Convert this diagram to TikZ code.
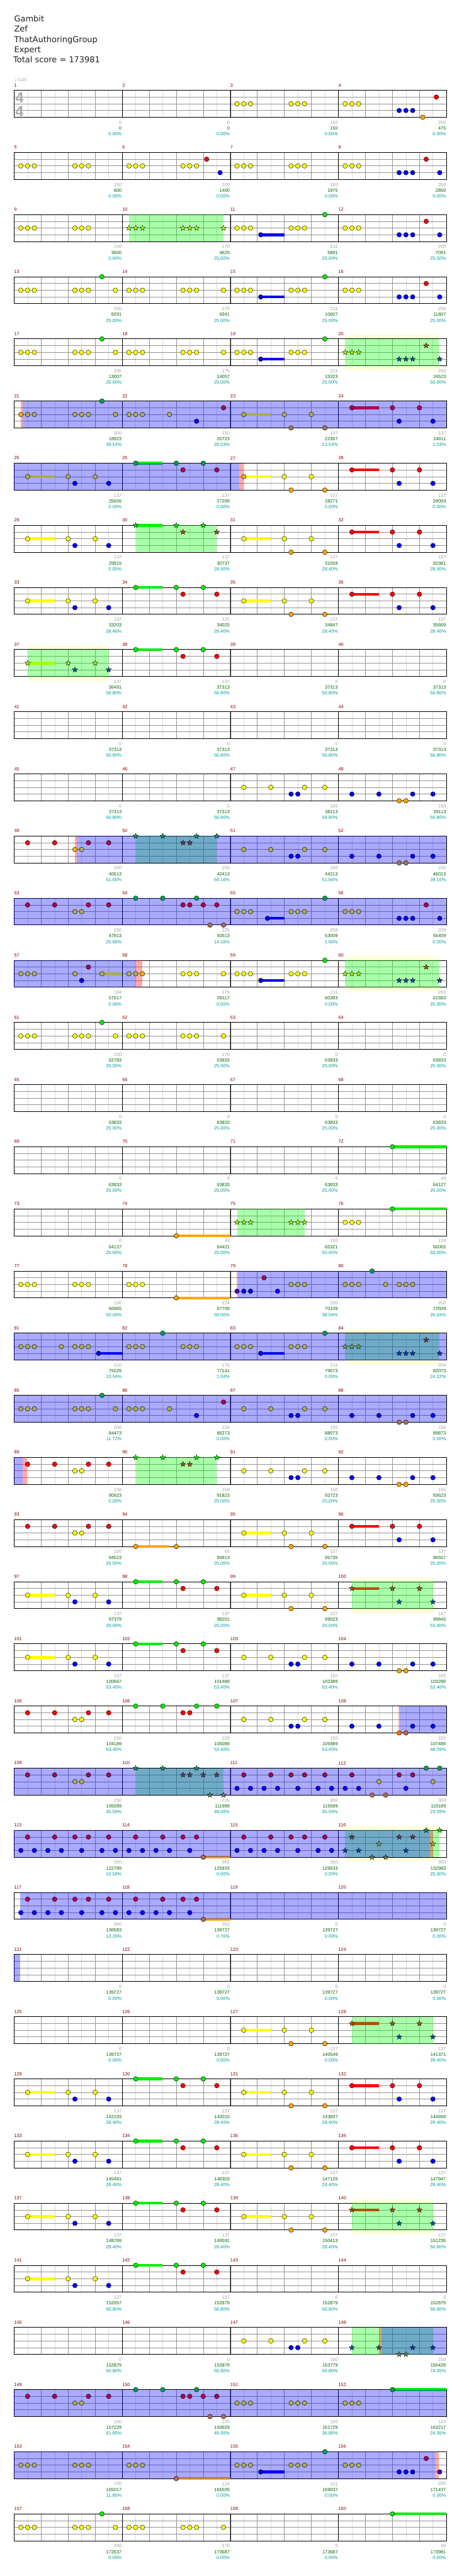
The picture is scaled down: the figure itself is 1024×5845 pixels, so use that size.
\documentclass[tikz,border=0pt]{standalone}
\usepackage{fontspec}
\setmainfont{Liberation Sans}
\newfontfamily\headfont{DejaVu Sans}
\definecolor{chG}{HTML}{00EE00}
\definecolor{chR}{HTML}{FF0000}
\definecolor{chY}{HTML}{FFFF00}
\definecolor{chB}{HTML}{0000FF}
\definecolor{chO}{HTML}{FFA500}
\definecolor{chbar}{HTML}{8B0000}
\definecolor{chmax}{HTML}{A0A0A0}
\definecolor{chsum}{HTML}{006400}
\definecolor{chpct}{HTML}{009A9A}
\definecolor{chpale}{HTML}{FFFFDC}

% lane offsets below the staff top
\newcommand\lyG{0}
\newcommand\lyR{15.25}
\newcommand\lyY{30.5}
\newcommand\lyB{45.75}
\newcommand\lyO{61}
% n plain, o overdrive, r lag strip, s star phrase, t phrase+overdrive, u phrase+lag
\newcommand\mxn{}
\newcommand\mxo{!67!blue}
\newcommand\mxr{!67!red}
\newcommand\mxs{!67!green}
\newcommand\mxt{!67!green!67!blue}
\newcommand\mxu{!67!green!67!red}

\newcommand{\chnote}[3]{%
  \edef\ncol{ch#2\csname mx#3\endcsname}%
  \edef\ny{\csname ly#2\endcsname}%
  \filldraw[gem,fill=\ncol] (#1,\ny) circle[radius=5.3pt];}
\newcommand{\chstar}[3]{%
  \edef\ncol{ch#2\csname mx#3\endcsname}%
  \edef\ny{\csname ly#2\endcsname}%
  \filldraw[starline,fill=\ncol] (#1,\ny) +(90:6.4pt) -- +(126:2.6pt) -- +(162:6.4pt) -- +(198:2.6pt)
    -- +(234:6.4pt) -- +(270:2.6pt) -- +(306:6.4pt) -- +(342:2.6pt) -- +(18:6.4pt) -- +(54:2.6pt) -- cycle;}
\newcommand{\chsus}[3]{%
  \edef\ny{\csname ly#3\endcsname}%
  \fill[ch#3] (#1,\ny-3.2) rectangle (#2,\ny+3.2);}
\newcommand{\chzone}[3]{\fill[#3,fill opacity=.333] (#1,0) rectangle (#2,61);}
\newcommand{\scorerow}[2]{%
  \begin{scope}[rowat=#1]
    \foreach \vg/\vs/\vq [count=\vn] in {#2} {
      \node[maxpts] (max-#1-\vn) at (16*\vn,72.8) {\vg};
      \node[cumpts] (sum-#1-\vn) at (16*\vn,86) {\vs};
      \node[pctval] (pct-#1-\vn) at (16*\vn,99.2) {\vq\%};
    }
  \end{scope}}

\begin{document}
\begin{tikzpicture}[x=1pt,y=-1pt,
  rowat/.style={shift={(32,{205+141*#1})},x=15.3125pt},
  subline/.style={draw=black!14,line width=.8pt},
  beatline/.style={draw=black!42,line width=.9pt},
  laneline/.style={draw=black!42,line width=1pt},
  barline/.style={draw=black,line width=.8pt},
  staffbox/.style={draw=black,line width=1.3pt},
  gem/.style={draw=black,line width=.6pt},
  starline/.style={draw=black,line width=.5pt},
  barno/.style={anchor=west,inner sep=0pt,text=chbar,font=\fontsize{10.5}{12}\selectfont},
  maxpts/.style={anchor=east,inner sep=0pt,xshift=-1pt,text=chmax,font=\fontsize{10.5}{12}\selectfont},
  cumpts/.style={anchor=east,inner sep=0pt,xshift=-1pt,text=chsum,font=\fontsize{10.5}{12}\selectfont},
  pctval/.style={anchor=east,inner sep=0pt,xshift=-1pt,text=chpct,font=\fontsize{10.5}{12}\selectfont},
  headline/.style={anchor=base west,inner sep=0pt,text=black!88,font=\headfont\fontsize{18.5}{20}\selectfont},
  tempo/.style={anchor=west,inner sep=0pt,text=black!35,font=\fontsize{10.5}{12}\selectfont},
  timesig/.style={inner sep=0pt,text=black!33,font=\fontsize{34}{34}\bfseries\selectfont}]
  \useasboundingbox (0,0) rectangle (1024,5845);

  \node[headline] (song) at (32,49.3) {Gambit};
  \node[headline] (artist) at (32,72.3) {Zef};
  \node[headline] (charter) at (32,95.7) {ThatAuthoringGroup};
  \node[headline] (level) at (32,119) {Expert};
  \node[headline] (total) at (30,141.7) {Total score = 173981};
  \node[tempo] (bpm) at (32,181) {{\headfont ♩}=135};

  % star phrase halo
  \foreach \rw/\za/\zb in {4/49/63,9/2/14,14/49/63,20/49/63,24/50/62,28/49/63,34/50/62} {
    \begin{scope}[rowat=\rw]
      \fill[chpale] (\za,-10) rectangle (\zb,71);
    \end{scope}
  }

  % staves
  \foreach \rw in {0,...,39} {
    \begin{scope}[rowat=\rw]
      \fill[white] (0,0) rectangle (64,61);
      \foreach \ps in {2,6,...,62} \draw[subline] (\ps,0) -- (\ps,61);
      \foreach \ps in {4,8,...,60} \draw[beatline] (\ps,0) -- (\ps,61);
      \foreach \lk in {1,2,3} \draw[laneline] (0,15.25*\lk) -- (64,15.25*\lk);
      \foreach \ps in {16,32,48} \draw[barline] (\ps,0) -- (\ps,61);
      \draw[staffbox] (0,0) rectangle (64,61);
      \foreach \ms in {0,...,3} {
        \pgfmathtruncatemacro\mno{4*\rw+\ms+1}
        \node[barno] (bar\mno) at (16*\ms,-11.5) {\mno};
      }
    \end{scope}
  }

  % m1-4
  \begin{scope}[rowat=0]
    \node[timesig] (tsup) at (0.8,16) {4};
    \node[timesig] (tsdown) at (0.8,47.5) {4};
    \foreach \np/\nc in {33/Y,34/Y,35/Y,41/Y,42/Y,43/Y,49/Y,50/Y,51/Y,57/B,58/B,59/B,60.5/O,62.5/R} \chnote{\np}{\nc}{n};
  \end{scope}
  \scorerow{0}{0/0/0.00,0/0/0.00,150/150/0.00,200/475/0.00}

  % m5-8
  \begin{scope}[rowat=1]
    \foreach \np/\nc in {1/Y,2/Y,3/Y,9/Y,10/Y,11/Y,17/Y,18/Y,19/Y,25/Y,26/Y,27/Y,28.5/R,30.5/B,
      33/Y,34/Y,35/Y,41/Y,42/Y,43/Y,49/Y,50/Y,51/Y,57/B,58/B,59/B,61/R,63/B} \chnote{\np}{\nc}{n};
  \end{scope}
  \scorerow{1}{150/800/0.00,200/1400/0.00,150/1975/0.00,200/2850/0.00}

  % m9-12
  \begin{scope}[rowat=2]
    \chsus{36.5}{40}{B}
    \chzone{17}{31}{green}
    \foreach \np/\nc in {1/Y,2/Y,3/Y,9/Y,10/Y,11/Y,33/Y,34/Y,35/Y,36.5/B,41/Y,42/Y,43/Y,46/G,
      49/Y,50/Y,51/Y,57/B,58/B,59/B,61/R,63/B} \chnote{\np}{\nc}{n};
    \foreach \np/\nc in {17/Y,18/Y,19/Y,25/Y,26/Y,27/Y,31/Y} \chstar{\np}{\nc}{s};
  \end{scope}
  \scorerow{2}{150/3600/0.00,175/4625/25.00,211/5891/25.00,200/7091/25.00}

  % m13-16
  \begin{scope}[rowat=3]
    \chsus{36.5}{40}{B}
    \foreach \np/\nc in {1/Y,2/Y,3/Y,9/Y,10/Y,11/Y,13/G,15/Y,17/Y,18/Y,19/Y,25/Y,26/Y,27/Y,31/Y,
      33/Y,34/Y,35/Y,36.5/B,41/Y,42/Y,43/Y,46/G,49/Y,50/Y,51/Y,57/B,58/B,59/B,61/R,63/B} \chnote{\np}{\nc}{n};
  \end{scope}
  \scorerow{3}{200/8291/25.00,175/9341/25.00,211/10607/25.00,200/11807/25.00}

  % m17-20
  \begin{scope}[rowat=4]
    \chsus{36.5}{40}{B}
    \chzone{49}{63}{green}
    \foreach \np/\nc in {1/Y,2/Y,3/Y,9/Y,10/Y,11/Y,13/G,15/Y,17/Y,18/Y,19/Y,25/Y,26/Y,27/Y,31/Y,
      33/Y,34/Y,35/Y,36.5/B,41/Y,42/Y,43/Y,46/G} \chnote{\np}{\nc}{n};
    \foreach \np/\nc in {49/Y,50/Y,51/Y,57/B,58/B,59/B,61/R,63/B} \chstar{\np}{\nc}{s};
  \end{scope}
  \scorerow{4}{200/13007/25.00,175/14057/25.00,211/15323/25.00,200/16523/50.00}

  % m21-24
  \begin{scope}[rowat=5]
    \chsus{34}{38}{Y}
    \chsus{50}{54}{R}
    \chzone{0.96}{1.26}{red}
    \chzone{1.26}{64}{blue}
    \chnote{1}{Y}{r}
    \foreach \np/\nc in {2/Y,3/Y,9/Y,10/Y,11/Y,13/G,15/Y,17/Y,18/Y,19/Y,23/Y,27/B,31/R,
      34/Y,40/Y,41/O,44/Y,46/O,50/R,56/R,57/B,60/R,62/B} \chnote{\np}{\nc}{o};
  \end{scope}
  \scorerow{5}{200/18923/38.53,150/20723/26.03,137/22367/13.53,137/24011/1.03}

  % m25-28
  \begin{scope}[rowat=6]
    \chsus{2}{6}{Y}
    \chsus{18}{22}{G}
    \chsus{34}{38}{Y}
    \chsus{50}{54}{R}
    \chzone{0}{33.3}{blue}
    \chzone{33.3}{34}{red}
    \foreach \np/\nc in {2/Y,8/Y,9/B,12/Y,14/B,18/G,24/G,25/R,28/G,30/R} \chnote{\np}{\nc}{o};
    \chnote{34}{Y}{r}
    \foreach \np/\nc in {40/Y,41/O,44/Y,46/O,50/R,56/R,57/B,60/R,62/B} \chnote{\np}{\nc}{n};
  \end{scope}
  \scorerow{6}{137/25655/0.00,137/27299/0.00,137/28271/0.00,137/29093/0.00}

  % m29-32
  \begin{scope}[rowat=7]
    \chsus{2}{6}{Y}
    \chsus{18}{22}{G}
    \chsus{34}{38}{Y}
    \chsus{50}{54}{R}
    \chzone{18}{30}{green}
    \foreach \np/\nc in {2/Y,8/Y,9/B,12/Y,14/B,34/Y,40/Y,41/O,44/Y,46/O,50/R,56/R,57/B,60/R,62/B} \chnote{\np}{\nc}{n};
    \foreach \np/\nc in {18/G,24/G,25/R,28/G,30/R} \chstar{\np}{\nc}{s};
  \end{scope}
  \scorerow{7}{137/29915/0.00,137/30737/28.40,137/31559/28.40,137/32381/28.40}

  % m33-36
  \begin{scope}[rowat=8]
    \chsus{2}{6}{Y}
    \chsus{18}{22}{G}
    \chsus{34}{38}{Y}
    \chsus{50}{54}{R}
    \foreach \np/\nc in {2/Y,8/Y,9/B,12/Y,14/B,18/G,24/G,25/R,28/G,30/R,
      34/Y,40/Y,41/O,44/Y,46/O,50/R,56/R,57/B,60/R,62/B} \chnote{\np}{\nc}{n};
  \end{scope}
  \scorerow{8}{137/33203/28.40,137/34025/28.40,137/34847/28.40,137/35669/28.40}

  % m37-40
  \begin{scope}[rowat=9]
    \chsus{2}{6}{Y}
    \chsus{18}{22}{G}
    \chzone{2}{14}{green}
    \foreach \np/\nc in {18/G,24/G,25/R,28/G,30/R} \chnote{\np}{\nc}{n};
    \foreach \np/\nc in {2/Y,8/Y,9/B,12/Y,14/B} \chstar{\np}{\nc}{s};
  \end{scope}
  \scorerow{9}{137/36491/56.80,137/37313/56.80,0/37313/56.80,0/37313/56.80}

  % m41-44
  \scorerow{10}{0/37313/56.80,0/37313/56.80,0/37313/56.80,0/37313/56.80}

  % m45-48
  \begin{scope}[rowat=11]
    \foreach \np/\nc in {34/Y,38/Y,41/B,42/B,43/Y,46/Y,50/B,54/B,57/O,58/O,59/B,62/B} \chnote{\np}{\nc}{n};
  \end{scope}
  \scorerow{11}{0/37313/56.80,0/37313/56.80,150/38213/56.80,150/39113/56.80}

  % m49-52
  \begin{scope}[rowat=12]
    \chzone{18}{30}{green}
    \chzone{9.01}{9.32}{red}
    \chzone{9.32}{64}{blue}
    \foreach \np/\nc in {2/R,6/R} \chnote{\np}{\nc}{n};
    \chnote{9}{Y}{r}
    \foreach \np/\nc in {10/Y,11/R,14/R,34/Y,38/Y,41/B,42/B,43/Y,46/Y,50/B,54/B,57/O,58/O,59/B,62/B} \chnote{\np}{\nc}{o};
    \foreach \np/\nc in {18/G,22/G,25/R,26/R,27/G,30/G} \chstar{\np}{\nc}{t};
  \end{scope}
  \scorerow{12}{150/40613/51.66,150/42413/64.16,150/44213/51.66,150/46013/39.16}

  % m53-56
  \begin{scope}[rowat=13]
    \chsus{37.5}{40}{B}
    \chzone{0}{64}{blue}
    \foreach \np/\nc in {2/R,6/R,9/Y,10/Y,11/R,14/R,18/G,22/G,25/R,26/R,27/G,28/R,29/O,30/R,31/O,
      33/Y,34/Y,35/Y,37.5/B,41/Y,42/Y,43/Y,46/G,49/Y,50/Y,51/Y,57/B,58/B,59/B,61/R,63/B} \chnote{\np}{\nc}{o};
  \end{scope}
  \scorerow{13}{150/47813/26.66,225/50513/14.16,208/53009/1.66,200/55409/0.00}

  % m57-60
  \begin{scope}[rowat=14]
    \chsus{13}{16}{Y}
    \chsus{36.5}{40}{B}
    \chzone{0}{18.07}{blue}
    \chzone{18.07}{18.94}{red}
    \chzone{49}{63}{green}
    \foreach \np/\nc in {1/Y,2/Y,3/Y,9/Y,10/B,11/R,13/Y,17/Y,18/Y} \chnote{\np}{\nc}{o};
    \chnote{19}{Y}{r}
    \foreach \np/\nc in {25/Y,26/Y,27/Y,31/Y,33/Y,34/Y,35/Y,36.5/B,41/Y,42/Y,43/Y,46/G} \chnote{\np}{\nc}{n};
    \foreach \np/\nc in {49/Y,50/Y,51/Y,57/B,58/B,59/B,61/R,63/B} \chstar{\np}{\nc}{s};
  \end{scope}
  \scorerow{14}{184/57617/0.00,175/59117/0.00,211/60383/0.00,200/61583/25.00}

  % m61-64
  \begin{scope}[rowat=15]
    \foreach \np/\nc in {1/Y,2/Y,3/Y,9/Y,10/Y,11/Y,13/G,15/Y,17/Y,18/Y,19/Y,25/Y,26/Y,27/Y,31/Y} \chnote{\np}{\nc}{n};
  \end{scope}
  \scorerow{15}{200/62783/25.00,175/63833/25.00,0/63833/25.00,0/63833/25.00}

  % m65-68
  \scorerow{16}{0/63833/25.00,0/63833/25.00,0/63833/25.00,0/63833/25.00}

  % m69-72
  \begin{scope}[rowat=17]
    \chsus{56}{64}{G}
    \chnote{56}{G}{n}
  \end{scope}
  \scorerow{17}{0/63833/25.00,0/63833/25.00,0/63833/25.00,49/64127/25.00}

  % m73-76
  \begin{scope}[rowat=18]
    \chsus{24}{32}{O}
    \chsus{56}{64}{G}
    \chzone{33}{43}{green}
    \foreach \np/\nc in {24/O,49/Y,50/Y,51/Y,56/G} \chnote{\np}{\nc}{n};
    \foreach \np/\nc in {33/Y,34/Y,35/Y,41/Y,42/Y,43/Y} \chstar{\np}{\nc}{s};
  \end{scope}
  \scorerow{18}{0/64127/25.00,49/64421/25.00,150/65321/50.00,124/66065/50.00}

  % m77-80
  \begin{scope}[rowat=19]
    \chsus{24}{32}{O}
    \chzone{32.96}{33.18}{red}
    \chzone{33.18}{64}{blue}
    \foreach \np/\nc in {1/Y,2/Y,3/Y,9/Y,10/Y,11/Y,17/Y,18/Y,19/Y,24/O} \chnote{\np}{\nc}{n};
    \chnote{33}{B}{r}
    \foreach \np/\nc in {34/B,35/B,37/R,39/B,41/Y,42/Y,43/Y,49/Y,50/Y,51/Y,53/G,55/Y,57/Y,58/Y,59/Y} \chnote{\np}{\nc}{o};
  \end{scope}
  \scorerow{19}{150/66965/50.00,124/67709/50.00,200/70109/38.54,200/72509/26.04}

  % m81-84
  \begin{scope}[rowat=20]
    \chsus{12.5}{16}{B}
    \chsus{36.5}{40}{B}
    \chzone{49}{63}{green}
    \chzone{0}{64}{blue}
    \foreach \np/\nc in {1/Y,2/Y,3/Y,7/Y,9/Y,10/Y,11/Y,12.5/B,17/Y,18/Y,19/Y,22/G,25/Y,26/Y,27/Y,
      33/Y,34/Y,35/Y,36.5/B,41/Y,42/Y,43/Y,46/G} \chnote{\np}{\nc}{o};
    \foreach \np/\nc in {49/Y,50/Y,51/Y,57/B,58/B,59/B,61/R,63/B} \chstar{\np}{\nc}{t};
  \end{scope}
  \scorerow{20}{210/75029/13.54,176/77141/1.04,211/79673/0.00,200/82073/24.22}

  % m85-88
  \begin{scope}[rowat=21]
    \chzone{0}{64}{blue}
    \foreach \np/\nc in {1/Y,2/Y,3/Y,9/Y,10/Y,11/Y,13/G,15/Y,17/Y,18/Y,19/Y,23/Y,27/B,31/R,
      34/Y,38/Y,41/B,42/B,43/Y,46/Y,50/B,54/B,57/O,58/O,59/B,62/B} \chnote{\np}{\nc}{o};
  \end{scope}
  \scorerow{21}{200/84473/11.72,150/86273/0.00,150/88073/0.00,150/89873/0.00}

  % m89-92
  \begin{scope}[rowat=22]
    \chzone{0}{1.31}{blue}
    \chzone{1.31}{1.96}{red}
    \chzone{18}{30}{green}
    \foreach \np/\nc in {2/R,6/R,9/Y,10/Y,11/R,14/R,34/Y,38/Y,41/B,42/B,43/Y,46/Y,
      50/B,54/B,57/O,58/O,59/B,62/B} \chnote{\np}{\nc}{n};
    \foreach \np/\nc in {18/G,22/G,25/R,26/R,27/G,30/G} \chstar{\np}{\nc}{s};
  \end{scope}
  \scorerow{22}{150/90923/0.00,150/91823/25.00,150/92723/25.00,150/93623/25.00}

  % m93-96
  \begin{scope}[rowat=23]
    \chsus{18}{23}{O}
    \chsus{34}{38}{Y}
    \chsus{50}{54}{R}
    \foreach \np/\nc in {2/R,6/R,9/Y,10/Y,11/R,14/R,18/O,24/O,34/Y,40/Y,41/O,44/Y,46/O,
      50/R,56/R,57/B,60/R,62/B} \chnote{\np}{\nc}{n};
  \end{scope}
  \scorerow{23}{150/94523/25.00,65/94913/25.00,137/95735/25.00,137/96557/25.00}

  % m97-100
  \begin{scope}[rowat=24]
    \chsus{2}{6}{Y}
    \chsus{18}{22}{G}
    \chsus{34}{38}{Y}
    \chsus{50}{54}{R}
    \chzone{50}{62}{green}
    \foreach \np/\nc in {2/Y,8/Y,9/B,12/Y,14/B,18/G,24/G,25/R,28/G,30/R,34/Y,40/Y,41/O,44/Y,46/O} \chnote{\np}{\nc}{n};
    \foreach \np/\nc in {50/R,56/R,57/B,60/R,62/B} \chstar{\np}{\nc}{s};
  \end{scope}
  \scorerow{24}{137/97379/25.00,137/98201/25.00,137/99023/25.00,137/99845/53.40}

  % m101-104
  \begin{scope}[rowat=25]
    \chsus{2}{6}{Y}
    \chsus{18}{22}{G}
    \foreach \np/\nc in {2/Y,8/Y,9/B,12/Y,14/B,18/G,24/G,25/R,28/G,30/R,
      34/Y,38/Y,41/B,42/B,43/Y,46/Y,50/B,54/B,57/O,58/O,59/B,62/B} \chnote{\np}{\nc}{n};
  \end{scope}
  \scorerow{25}{137/100667/53.40,137/101489/53.40,150/102389/53.40,150/103289/53.40}

  % m105-108
  \begin{scope}[rowat=26]
    \chzone{56.9}{57.05}{red}
    \chzone{57.05}{64}{blue}
    \foreach \np/\nc in {2/R,6/R,9/Y,10/Y,11/R,14/R,18/G,22/G,25/R,26/R,27/G,30/G,
      34/Y,38/Y,41/B,42/B,43/Y,46/Y,50/B,54/B} \chnote{\np}{\nc}{n};
    \chnote{57}{O}{r}
    \foreach \np/\nc in {58/O,59/B,62/B} \chnote{\np}{\nc}{o};
  \end{scope}
  \scorerow{26}{150/104189/53.40,150/105089/53.40,150/105989/53.40,150/107489/48.09}

  % m109-112
  \begin{scope}[rowat=27]
    \chzone{18}{31}{green}
    \chzone{0}{64}{blue}
    \foreach \np/\nc in {2/R,6/R,9/Y,10/Y,11/R,14/R,33/B,34/R,35/B,37/B,38/R,39/B,41/R,42/B,43/R,45/B,46/R,47/B,
      49/B,50/R,51/B,53/O,54/Y,55/O,57/R,58/B,59/R,61/G,62/Y,63/G} \chnote{\np}{\nc}{o};
    \foreach \np/\nc in {18/G,22/G,25/R,26/R,27/G,28/R,29/O,30/R,31/O} \chstar{\np}{\nc}{t};
  \end{scope}
  \scorerow{27}{150/109289/35.59,225/111989/48.09,300/115589/35.59,300/119189/23.09}

  % m113-116
  \begin{scope}[rowat=28]
    \chsus{28}{32}{O}
    \chzone{49}{63}{green}
    \chzone{0}{61.56}{blue}
    \chzone{61.56}{62}{red}
    \foreach \np/\nc in {1/B,2/R,3/B,5/B,6/R,7/B,9/R,10/B,11/R,13/B,14/R,15/B,17/B,18/R,19/B,21/B,22/R,23/B,
      25/R,26/B,27/R,28/O,33/B,34/R,35/B,37/B,38/R,39/B,41/R,42/B,43/R,45/B,46/R,47/B} \chnote{\np}{\nc}{o};
    \foreach \np/\nc in {49/B,50/R,51/B,53/O,54/Y,55/O,57/R,58/B,59/R,61/G} \chstar{\np}{\nc}{t};
    \chstar{62}{Y}{u}
    \chstar{63}{G}{s}
  \end{scope}
  \scorerow{28}{300/122789/10.59,262/125933/0.00,300/129533/0.00,300/132983/25.00}

  % m117-120
  \begin{scope}[rowat=29]
    \chsus{28}{32}{O}
    \chzone{0.87}{64}{blue}
    \foreach \np/\nc in {1/B,2/R,3/B,5/B,6/R,7/B,9/R,10/B,11/R,13/B,14/R,15/B,17/B,18/R,19/B,21/B,22/R,23/B,
      25/R,26/B,27/R,28/O} \chnote{\np}{\nc}{o};
  \end{scope}
  \scorerow{29}{300/136583/13.26,262/139727/0.76,0/139727/0.00,0/139727/0.00}

  % m121-124
  \begin{scope}[rowat=30]
    \chzone{0}{0.87}{blue}
  \end{scope}
  \scorerow{30}{0/139727/0.00,0/139727/0.00,0/139727/0.00,0/139727/0.00}

  % m125-128
  \begin{scope}[rowat=31]
    \chsus{34}{38}{Y}
    \chsus{50}{54}{R}
    \chzone{50}{62}{green}
    \foreach \np/\nc in {34/Y,40/Y,41/O,44/Y,46/O} \chnote{\np}{\nc}{n};
    \foreach \np/\nc in {50/R,56/R,57/B,60/R,62/B} \chstar{\np}{\nc}{s};
  \end{scope}
  \scorerow{31}{0/139727/0.00,0/139727/0.00,137/140549/0.00,137/141371/28.40}

  % m129-136
  \foreach \rw in {32,33} {
    \begin{scope}[rowat=\rw]
      \chsus{2}{6}{Y}
      \chsus{18}{22}{G}
      \chsus{34}{38}{Y}
      \chsus{50}{54}{R}
      \foreach \np/\nc in {2/Y,8/Y,9/B,12/Y,14/B,18/G,24/G,25/R,28/G,30/R,
        34/Y,40/Y,41/O,44/Y,46/O,50/R,56/R,57/B,60/R,62/B} \chnote{\np}{\nc}{n};
    \end{scope}
  }
  \scorerow{32}{137/142193/28.40,137/143015/28.40,137/143837/28.40,137/144659/28.40}
  \scorerow{33}{137/145481/28.40,137/146303/28.40,137/147125/28.40,137/147947/28.40}

  % m137-140
  \begin{scope}[rowat=34]
    \chsus{2}{6}{Y}
    \chsus{18}{22}{G}
    \chsus{34}{38}{Y}
    \chsus{50}{54}{R}
    \chzone{50}{62}{green}
    \foreach \np/\nc in {2/Y,8/Y,9/B,12/Y,14/B,18/G,24/G,25/R,28/G,30/R,34/Y,40/Y,41/O,44/Y,46/O} \chnote{\np}{\nc}{n};
    \foreach \np/\nc in {50/R,56/R,57/B,60/R,62/B} \chstar{\np}{\nc}{s};
  \end{scope}
  \scorerow{34}{137/148769/28.40,137/149591/28.40,137/150413/28.40,137/151235/56.80}

  % m141-144
  \begin{scope}[rowat=35]
    \chsus{2}{6}{Y}
    \chsus{18}{22}{G}
    \foreach \np/\nc in {2/Y,8/Y,9/B,12/Y,14/B,18/G,24/G,25/R,28/G,30/R} \chnote{\np}{\nc}{n};
  \end{scope}
  \scorerow{35}{137/152057/56.80,137/152879/56.80,0/152879/56.80,0/152879/56.80}

  % m145-148
  \begin{scope}[rowat=36]
    \chzone{50}{62}{green}
    \chzone{54}{54.42}{red}
    \chzone{54.42}{64}{blue}
    \foreach \np/\nc in {34/Y,38/Y,41/B,42/B,43/Y,46/Y} \chnote{\np}{\nc}{n};
    \chstar{50}{B}{s}
    \chstar{54}{B}{u}
    \foreach \np/\nc in {57/O,58/O,59/B,62/B} \chstar{\np}{\nc}{t};
  \end{scope}
  \scorerow{36}{0/152879/56.80,0/152879/56.80,150/153779/56.80,150/155429/74.35}

  % m149-152
  \begin{scope}[rowat=37]
    \chsus{56}{64}{G}
    \chzone{0}{64}{blue}
    \foreach \np/\nc in {2/R,6/R,9/Y,10/Y,11/R,14/R,18/G,22/G,25/R,26/R,27/G,28/R,29/O,30/R,31/O,
      33/Y,34/Y,35/Y,41/Y,42/Y,43/Y,49/Y,50/Y,51/Y,56/G} \chnote{\np}{\nc}{o};
  \end{scope}
  \scorerow{37}{150/157229/61.85,225/159929/49.35,150/161729/36.85,124/163217/24.35}

  % m153-156
  \begin{scope}[rowat=38]
    \chsus{24}{32}{O}
    \chsus{36.5}{40}{B}
    \chzone{0}{62.43}{blue}
    \chzone{62.43}{62.9}{red}
    \foreach \np/\nc in {1/Y,2/Y,3/Y,9/Y,10/Y,11/Y,17/Y,18/Y,19/Y,24/O,33/Y,34/Y,35/Y,36.5/B,41/Y,42/Y,43/Y,46/G,
      49/Y,50/Y,51/Y,57/B,58/B,59/B,61/R} \chnote{\np}{\nc}{o};
    \chnote{63}{B}{r}
  \end{scope}
  \scorerow{38}{150/165017/11.85,124/166505/0.00,211/169037/0.00,200/171437/0.00}

  % m157-160
  \begin{scope}[rowat=39]
    \chsus{56}{64}{G}
    \foreach \np/\nc in {1/Y,2/Y,3/Y,9/Y,10/Y,11/Y,13/G,15/Y,17/Y,18/Y,19/Y,25/Y,26/Y,27/Y,31/Y,56/G} \chnote{\np}{\nc}{n};
  \end{scope}
  \scorerow{39}{200/172637/0.00,175/173687/0.00,0/173687/0.00,49/173981/0.00}
\end{tikzpicture}
\end{document}
